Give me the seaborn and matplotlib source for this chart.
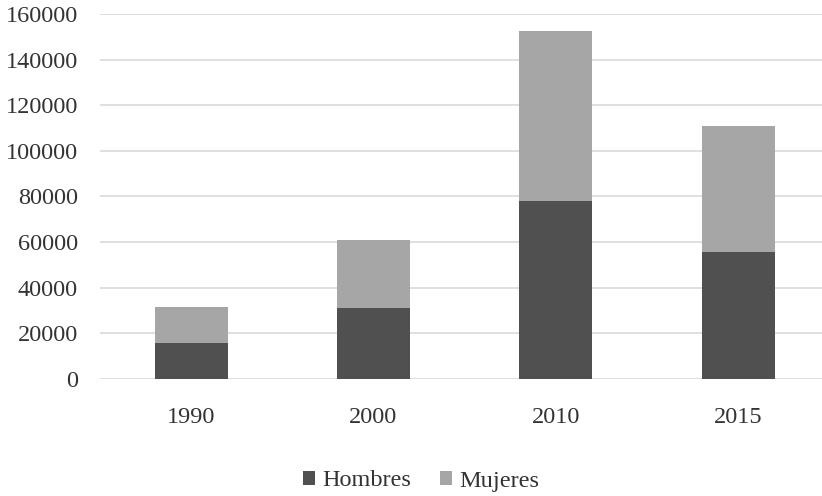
import matplotlib
matplotlib.use("Agg")
import matplotlib.pyplot as plt
from matplotlib.patches import Patch
import seaborn as sns
import pandas as pd

years = ["1990", "2000", "2010", "2015"]
hombres = [15600, 31000, 78200, 55700]
mujeres = [16000, 29900, 74400, 55200]
yticks = [0, 20000, 40000, 60000, 80000, 100000, 120000, 140000, 160000]

dark = "#505050"
light = "#a6a6a6"
text_color = "#333333"

sns.set_theme(style="white")
plt.rcParams["font.family"] = ["Liberation Serif", "DejaVu Serif"]

df = pd.DataFrame({"year": years, "Hombres": hombres, "Mujeres": mujeres})
df["total"] = df["Hombres"] + df["Mujeres"]

fig = plt.figure(figsize=(8.22, 4.96), dpi=100)
ax = fig.add_axes([100 / 822, 1 - 379 / 496, 722 / 822, 365 / 496])

# stacked bars: full height in the lighter tone, men's share drawn over it
sns.barplot(data=df, x="year", y="total", color=light, width=0.4,
            saturation=1, linewidth=0, ax=ax, zorder=3)
sns.barplot(data=df, x="year", y="Hombres", color=dark, width=0.4,
            saturation=1, linewidth=0, ax=ax, zorder=4)

ax.set_xlim(-0.5, 3.46)
ax.set_ylim(0, 160000)
ax.set_yticks(yticks)
ax.set_yticklabels([str(v) for v in yticks])
ax.yaxis.grid(True, color="#d9d9d9", linewidth=1.2, zorder=0)
ax.set_axisbelow(True)
for s in ax.spines.values():
    s.set_visible(False)
ax.set_xlabel("")
ax.set_ylabel("")
ax.tick_params(axis="both", length=0, labelsize=17.5, colors=text_color)
ax.tick_params(axis="y", pad=16)
ax.tick_params(axis="x", pad=20)

handles = [Patch(facecolor=dark, edgecolor="none"),
           Patch(facecolor=light, edgecolor="none")]
fig.legend(handles, ["Hombres", "Mujeres"], loc="center",
           bbox_to_anchor=(421 / 822, 1 - 481 / 496), ncol=2, frameon=False,
           fontsize=17.5, labelcolor=text_color, handlelength=0.5,
           handleheight=0.5, handletextpad=0.3, columnspacing=1.2)

fig.savefig("out.png", dpi=100)
